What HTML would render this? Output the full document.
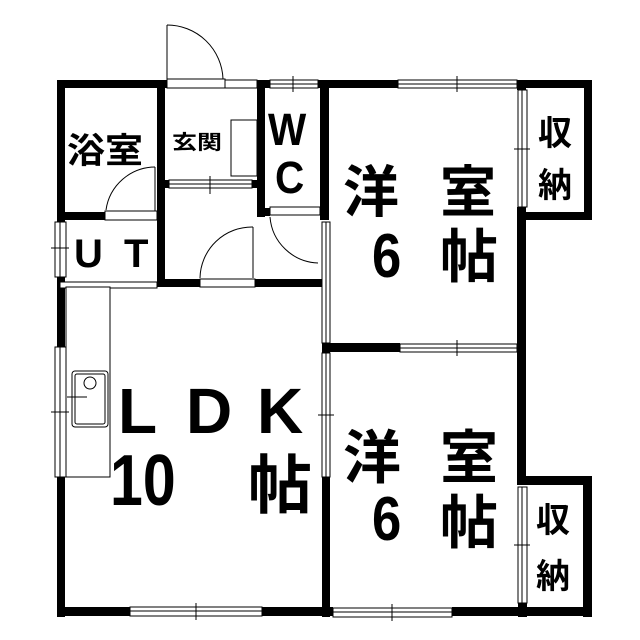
<!DOCTYPE html>
<html><head><meta charset="utf-8"><style>
html,body{margin:0;padding:0;background:#fff;}
svg{display:block;}
text{font-family:"Liberation Sans","Noto Sans CJK JP",sans-serif;fill:#000;}
.j{font-family:"Noto Sans CJK JP",sans-serif;font-weight:bold;}
.b{font-weight:bold;}
</style></head><body>
<svg width="640" height="640" viewBox="0 0 640 640" xmlns="http://www.w3.org/2000/svg">
<g fill="#000">
<rect x="57" y="80" width="110" height="8"/>
<rect x="257" y="80" width="13" height="8"/>
<rect x="318" y="80" width="82" height="8"/>
<rect x="517" y="80" width="75" height="8"/>
<rect x="57" y="80" width="8" height="142"/>
<rect x="57" y="277" width="8" height="10"/>
<rect x="57" y="477" width="8" height="140"/>
<rect x="57" y="287" width="8" height="60"/>
<rect x="157" y="80" width="8" height="207"/>
<rect x="57" y="212" width="48" height="8"/>
<rect x="157" y="180" width="12" height="8"/>
<rect x="252" y="180" width="8" height="8"/>
<rect x="257" y="80" width="8" height="137"/>
<rect x="257" y="208" width="13" height="8"/>
<rect x="320" y="80" width="9" height="140"/>
<rect x="157" y="279" width="43" height="8"/>
<rect x="255" y="279" width="68" height="8"/>
<rect x="322" y="343" width="8" height="10"/>
<rect x="322" y="477" width="8" height="140"/>
<rect x="322" y="343" width="78" height="9"/>
<rect x="517" y="80" width="9" height="10"/>
<rect x="517" y="207" width="9" height="270"/>
<rect x="518" y="603" width="9" height="14"/>
<rect x="584" y="80" width="8" height="140"/>
<rect x="517" y="212" width="75" height="8"/>
<rect x="517" y="476" width="75" height="9"/>
<rect x="583" y="476" width="9" height="141"/>
<rect x="57" y="607" width="73" height="9"/>
<rect x="262" y="607" width="71" height="9"/>
<rect x="452" y="607" width="140" height="9"/>
</g>
<g fill="#fff" stroke="#000" stroke-width="1">
<rect x="398" y="80" width="119" height="8"/><line x1="398" y1="84" x2="517" y2="84"/>
<rect x="270" y="80" width="48" height="8"/><line x1="270" y1="84" x2="318" y2="84"/>
<rect x="400" y="344" width="117" height="8"/><line x1="400" y1="348" x2="517" y2="348"/>
<rect x="518" y="90" width="9" height="117"/><line x1="522" y1="90" x2="522" y2="207"/>
<rect x="518" y="487" width="9" height="116"/><line x1="522" y1="487" x2="522" y2="603"/>
<rect x="130" y="607" width="132" height="9"/><line x1="130" y1="611" x2="262" y2="611"/>
<rect x="333" y="608" width="119" height="9"/><line x1="333" y1="612" x2="452" y2="612"/>
<rect x="55" y="347" width="11" height="130"/><line x1="60" y1="347" x2="60" y2="477"/>
<rect x="55" y="222" width="11" height="55"/><line x1="60" y1="222" x2="60" y2="277"/>
<rect x="322" y="353" width="8" height="124"/><line x1="326" y1="353" x2="326" y2="477"/>
<rect x="322" y="222" width="8" height="121"/><line x1="326" y1="222" x2="326" y2="343"/>
<rect x="169" y="180" width="83" height="8"/><line x1="169" y1="184" x2="252" y2="184"/>
<rect x="60" y="282" width="97" height="6"/>
<rect x="167" y="79" width="58" height="9"/>
<rect x="225" y="80" width="32" height="8"/>
<rect x="105" y="211" width="52" height="9"/>
<rect x="270" y="207" width="50" height="8"/>
<rect x="200" y="279" width="55" height="8"/>
<rect x="66" y="287" width="44" height="190"/>
<rect x="72" y="371" width="36" height="56" rx="3"/>
<rect x="75" y="374" width="30" height="50" rx="2"/>
<circle cx="90" cy="383" r="6"/>
<rect x="231" y="120" width="26" height="56"/>
</g>
<g fill="none" stroke="#000" stroke-width="1">
<path d="M167 25 A56 56 0 0 1 223 79"/><line x1="167" y1="25" x2="167" y2="79"/>
<path d="M106 210 A50 50 0 0 1 155 167"/><line x1="155" y1="167" x2="155" y2="211"/>
<path d="M270 217 A50 50 0 0 0 318 263"/>
<path d="M200 278 A52 52 0 0 1 253 227"/><line x1="253" y1="227" x2="253" y2="278"/>
<line x1="457" y1="76" x2="457" y2="92"/><line x1="444" y1="84" x2="470" y2="84"/>
<line x1="293" y1="76" x2="293" y2="92"/>
<line x1="210" y1="176" x2="210" y2="194"/>
<line x1="457" y1="340" x2="457" y2="356"/>
<line x1="514" y1="149" x2="530" y2="149"/>
<line x1="514" y1="545" x2="530" y2="545"/>
<line x1="196" y1="603" x2="196" y2="620"/>
<line x1="392" y1="604" x2="392" y2="621"/>
<line x1="51" y1="412" x2="69" y2="412"/>
<line x1="51" y1="248" x2="69" y2="248"/>
<line x1="318" y1="415" x2="334" y2="415"/>
<line x1="67" y1="397" x2="87" y2="397"/>
</g>
<text class="j" x="67" y="163" font-size="38" transform="translate(67 163) scale(1 0.92) translate(-67 -163)">浴室</text>
<text class="j" x="172" y="149" font-size="25" transform="translate(172 149) scale(1 0.8) translate(-172 -149)">玄関</text>
<text class="b" x="268" y="145" font-size="45" transform="translate(268 145) scale(0.9 1) translate(-268 -145)">W</text>
<text class="b" x="275" y="193" font-size="45" transform="translate(275 193) scale(0.9 1) translate(-275 -193)">C</text>
<text class="b" x="74" y="267" font-size="40">U</text>
<text class="b" x="124" y="267" font-size="40">T</text>
<text class="j" x="343" y="212" font-size="56">洋</text>
<text class="j" x="440" y="212" font-size="56">室</text>
<text class="b" x="372" y="277" font-size="62" transform="translate(372 277) scale(0.85 1) translate(-372 -277)">6</text>
<text class="j" x="440" y="277" font-size="58">帖</text>
<text class="j" x="538" y="145" font-size="34">収</text>
<text class="j" x="538" y="197" font-size="34">納</text>
<text class="b" x="118" y="433" font-size="64">L</text>
<text class="b" x="186" y="433" font-size="64">D</text>
<text class="b" x="257" y="433" font-size="64">K</text>
<text class="b" x="110" y="505" font-size="72" transform="translate(110 505) scale(0.82 1) translate(-110 -505)">10</text>
<text class="j" x="248" y="508" font-size="64">帖</text>
<text class="j" x="343" y="478" font-size="58">洋</text>
<text class="j" x="440" y="478" font-size="58">室</text>
<text class="b" x="372" y="540" font-size="62" transform="translate(372 540) scale(0.85 1) translate(-372 -540)">6</text>
<text class="j" x="440" y="543" font-size="58">帖</text>
<text class="j" x="536" y="532" font-size="34">収</text>
<text class="j" x="536" y="588" font-size="34">納</text>
</svg>
</body></html>
